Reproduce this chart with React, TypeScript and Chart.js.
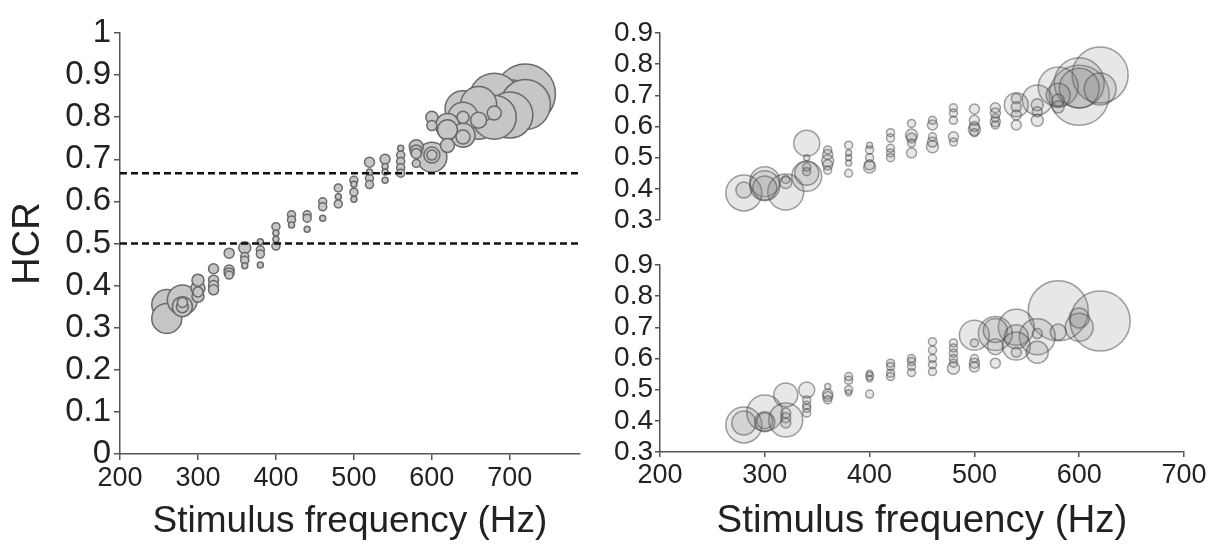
import { useEffect, useRef } from "react";
import { Chart, registerables } from "chart.js";

Chart.register(...registerables);

const FONT = "'Liberation Sans', Arial, Helvetica, sans-serif";
const TEXT = "#222222";
const AXIS = "#555555";

// ---------- Left panel (HCR vs stimulus frequency) ----------
const leftFreq = [
  260, 260,
  280, 280, 280, 280,
  300, 300, 300, 300,
  320, 320, 320, 320,
  340, 340, 340, 340,
  360, 360, 360, 360,
  380, 380, 380, 380,
  400, 400, 400, 400,
  420, 420, 420,
  440, 440, 440,
  460, 460, 460,
  480, 480, 480,
  500, 500, 500, 500,
  520, 520, 520, 520,
  540, 540, 540, 540,
  560, 560, 560, 560, 560,
  580, 580, 580, 580,
  600, 600, 600, 600, 600,
  620, 620, 620,
  640, 640, 640, 640, 640,
  660, 660, 660,
  680, 680, 680,
  700, 700,
  720, 720,
];
const leftHcr = [
  0.355, 0.322,
  0.366, 0.35, 0.35, 0.36,
  0.413, 0.394, 0.375, 0.385,
  0.44, 0.413, 0.4, 0.39,
  0.477, 0.437, 0.43, 0.425,
  0.49, 0.469, 0.46, 0.447,
  0.504, 0.485, 0.475, 0.449,
  0.54, 0.525, 0.51, 0.494,
  0.568, 0.556, 0.544,
  0.568, 0.56, 0.534,
  0.599, 0.587, 0.56,
  0.632, 0.611, 0.594,
  0.65, 0.641, 0.622, 0.605,
  0.693, 0.67, 0.655, 0.64,
  0.7, 0.683, 0.67, 0.65,
  0.726, 0.71, 0.695, 0.68, 0.667,
  0.73, 0.714, 0.69, 0.72,
  0.705, 0.71, 0.71, 0.8, 0.78,
  0.77, 0.733, 0.78,
  0.757, 0.753, 0.8, 0.8, 0.82,
  0.83, 0.793, 0.8,
  0.845, 0.8, 0.81,
  0.825, 0.805,
  0.855, 0.83,
];
const leftSize = [
  15, 15,
  15, 10, 6, 5,
  6, 7, 6, 5,
  5, 5, 5, 5,
  5, 5, 5, 4,
  6, 4, 4, 3,
  3, 4, 4, 3,
  4, 3, 3, 4,
  4, 4, 3,
  4, 4, 3,
  4, 4, 3,
  4, 3, 4,
  4, 3, 4, 3,
  5, 3, 4, 4,
  5, 3, 3, 3,
  3, 4, 4, 4, 4,
  7, 5, 4, 6,
  15, 8, 5, 6, 5,
  10, 7, 12,
  12, 7, 6, 15, 18,
  18, 8, 22,
  25, 22, 7,
  27, 23,
  30, 25,
];
const leftRefLines = [0.5, 0.667];
const leftXMin = 200;
const leftXMax = 790;
const leftXTicks = [200, 300, 400, 500, 600, 700];
const leftYTicks = [0, 0.1, 0.2, 0.3, 0.4, 0.5, 0.6, 0.7, 0.8, 0.9, 1];

// ---------- Right top panel ----------
const topFreq = [
  280, 280,
  300, 300, 300,
  320, 320, 320,
  340, 340, 340, 340, 340, 340,
  360, 360, 360, 360, 360,
  380, 380, 380, 380, 380,
  400, 400, 400, 400, 400,
  420, 420, 420, 420, 420,
  440, 440, 440, 440, 440,
  460, 460, 460, 460, 460,
  480, 480, 480, 480, 480,
  500, 500, 500, 500, 500,
  520, 520, 520, 520, 520,
  540, 540, 540, 540, 540,
  560, 560, 560, 560,
  580, 580, 580, 580,
  600, 600, 600,
  620, 620,
];
const topHcr = [
  0.387, 0.396,
  0.423, 0.403, 0.41,
  0.39, 0.43, 0.42,
  0.546, 0.44, 0.45, 0.47, 0.455, 0.5,
  0.525, 0.51, 0.49, 0.477, 0.46,
  0.54, 0.515, 0.5, 0.483, 0.45,
  0.54, 0.525, 0.5, 0.477, 0.47,
  0.58, 0.563, 0.53, 0.515, 0.5,
  0.61, 0.573, 0.563, 0.547, 0.515,
  0.62, 0.605, 0.567, 0.55, 0.535,
  0.66, 0.643, 0.62, 0.567, 0.55,
  0.656, 0.62, 0.6, 0.59, 0.58,
  0.66, 0.643, 0.627, 0.615, 0.605,
  0.67, 0.69, 0.663, 0.637, 0.605,
  0.685, 0.67, 0.647, 0.62,
  0.727, 0.7, 0.685, 0.663,
  0.7, 0.74, 0.723,
  0.765, 0.72,
];
const topSize = [
  18, 8,
  15, 12, 15,
  18, 4, 6,
  13, 15, 12, 4, 4, 3,
  4, 5, 6, 5, 4,
  4, 3, 3, 3, 4,
  3, 4, 4, 5, 6,
  4, 4, 4, 4, 4,
  4, 6, 5, 4, 5,
  4, 5, 4, 5, 6,
  4, 4, 4, 5, 4,
  5, 5, 5, 6, 4,
  5, 5, 4, 5, 4,
  12, 5, 5, 5, 5,
  15, 6, 5, 6,
  20, 12, 6, 6,
  30, 25, 20,
  28, 16,
];

// ---------- Right bottom panel ----------
const botFreq = [
  280, 280,
  300, 300, 300,
  320, 320, 320, 320, 320,
  340, 340, 340, 340, 340,
  360, 360, 360, 360,
  380, 380, 380, 380,
  400, 400, 400, 400,
  420, 420, 420, 420,
  440, 440, 440, 440,
  460, 460, 460, 460, 460,
  480, 480, 480, 480, 480, 480,
  500, 500, 500, 500, 500,
  520, 520, 520, 520,
  540, 540, 540, 540,
  560, 560, 560,
  580, 580,
  600, 600,
  620,
];
const botHcr = [
  0.387, 0.393,
  0.425, 0.397, 0.4,
  0.403, 0.483, 0.425, 0.41, 0.393,
  0.499, 0.467, 0.45, 0.44, 0.425,
  0.51, 0.486, 0.478, 0.467,
  0.542, 0.53, 0.5, 0.49,
  0.553, 0.544, 0.535, 0.486,
  0.585, 0.574, 0.553, 0.542,
  0.6, 0.59, 0.574, 0.555,
  0.654, 0.627, 0.6, 0.58, 0.558,
  0.65, 0.634, 0.617, 0.6, 0.585, 0.569,
  0.675, 0.65, 0.6, 0.585, 0.573,
  0.68, 0.69, 0.638, 0.585,
  0.7, 0.64, 0.67, 0.62,
  0.67, 0.62, 0.68,
  0.753, 0.685,
  0.73, 0.7,
  0.72,
];
const botSize = [
  18, 12,
  18, 10, 8,
  17, 12, 5, 5, 5,
  8, 4, 4, 4, 4,
  3, 5, 5, 4,
  4, 4, 4, 3,
  3, 4, 3, 4,
  4, 4, 4, 4,
  4, 4, 4, 4,
  4, 4, 4, 4, 4,
  4, 4, 4, 4, 4, 6,
  15, 4, 4, 5, 5,
  17, 12, 8, 5,
  18, 14, 12, 5,
  18, 11, 5,
  30, 8,
  10, 14,
  30,
];

const rightXMin = 200;
const rightXMax = 700;
const rightXTicks = [200, 300, 400, 500, 600, 700];
const rightYMin = 0.3;
const rightYMax = 0.9;
const rightYTicks = [0.3, 0.4, 0.5, 0.6, 0.7, 0.8, 0.9];

const X_TITLE = "Stimulus frequency (Hz)";
const Y_TITLE = "HCR";

function points(f: number[], v: number[], s: number[]) {
  return f
    .map((x, i) => ({ x, y: v[i], r: s[i] }))
    .sort((a, b) => b.r - a.r);
}

function gridOpts(len: number) {
  return {
    display: true,
    drawOnChartArea: false,
    drawTicks: true,
    tickLength: len,
    color: AXIS,
    lineWidth: 1.5,
  };
}

function leftConfig(): any {
  const lines = leftRefLines.map((v) => ({
    type: "line",
    data: [
      { x: leftXMin, y: v },
      { x: leftXMax, y: v },
    ],
    borderColor: "#111111",
    borderWidth: 2.5,
    borderDash: [7, 4],
    pointRadius: 0,
    fill: false,
    order: 0,
  }));
  return {
    type: "bubble",
    data: {
      datasets: [
        {
          type: "bubble",
          data: points(leftFreq, leftHcr, leftSize),
          backgroundColor: "#c6c6c6",
          borderColor: "#6a6a6a",
          borderWidth: 1.5,
          order: 1,
        },
        ...lines,
      ],
    },
    options: {
      animation: false,
      responsive: false,
      events: [],
      layout: { autoPadding: false, padding: { top: 33, right: 20, left: 0, bottom: 0 } },
      plugins: { legend: { display: false }, tooltip: { enabled: false } },
      scales: {
        x: {
          type: "linear",
          min: leftXMin,
          max: leftXMax,
          afterFit: (s: any) => {
            s.height = 90;
            s.paddingLeft = 0;
            s.paddingRight = 0;
          },
          afterBuildTicks: (s: any) => {
            s.ticks = leftXTicks.map((value) => ({ value }));
          },
          grid: gridOpts(6),
          border: { display: true, color: AXIS, width: 1.5 },
          ticks: {
            font: { family: FONT, size: 27 },
            color: TEXT,
            padding: 2,
            maxRotation: 0,
            autoSkip: false,
            callback: (v: any) => String(v),
          },
          title: {
            display: true,
            text: X_TITLE,
            font: { family: FONT, size: 37 },
            color: TEXT,
            padding: { top: 0, bottom: 0 },
          },
        },
        y: {
          type: "linear",
          min: 0,
          max: 1,
          afterFit: (s: any) => {
            s.width = 120;
          },
          afterBuildTicks: (s: any) => {
            s.ticks = leftYTicks.map((value) => ({ value }));
          },
          grid: gridOpts(6),
          border: { display: true, color: AXIS, width: 1.5 },
          ticks: {
            font: { family: FONT, size: 33 },
            color: TEXT,
            padding: 3,
            autoSkip: false,
            callback: (v: any) => String(v),
          },
          title: {
            display: true,
            text: Y_TITLE,
            font: { family: FONT, size: 38 },
            color: TEXT,
            padding: { top: 6, bottom: 0 },
          },
        },
      },
    },
  };
}

function rightConfig(
  f: number[],
  v: number[],
  s: number[],
  showX: boolean,
  padTop: number,
  padBottom: number
): any {
  return {
    type: "bubble",
    data: {
      datasets: [
        {
          data: points(f, v, s),
          backgroundColor: "rgba(110,110,110,0.17)",
          borderColor: "rgba(70,70,70,0.5)",
          borderWidth: 1.5,
        },
      ],
    },
    options: {
      animation: false,
      responsive: false,
      events: [],
      layout: {
        autoPadding: false,
        padding: { top: padTop, right: 33, left: 0, bottom: padBottom },
      },
      plugins: { legend: { display: false }, tooltip: { enabled: false } },
      scales: {
        x: {
          type: "linear",
          display: showX,
          min: rightXMin,
          max: rightXMax,
          afterFit: (sc: any) => {
            sc.height = showX ? 92 : 0;
            sc.paddingLeft = 0;
            sc.paddingRight = 0;
          },
          afterBuildTicks: (sc: any) => {
            sc.ticks = rightXTicks.map((value) => ({ value }));
          },
          grid: gridOpts(5),
          border: { display: true, color: AXIS, width: 1.5 },
          ticks: {
            font: { family: FONT, size: 27 },
            color: TEXT,
            padding: 2,
            maxRotation: 0,
            autoSkip: false,
            callback: (val: any) => String(val),
          },
          title: {
            display: true,
            text: X_TITLE,
            font: { family: FONT, size: 38.5 },
            color: TEXT,
            padding: { top: 0, bottom: 0 },
          },
        },
        y: {
          type: "linear",
          min: rightYMin,
          max: rightYMax,
          afterFit: (sc: any) => {
            sc.width = 60;
          },
          afterBuildTicks: (sc: any) => {
            sc.ticks = rightYTicks.map((value) => ({ value }));
          },
          grid: gridOpts(5),
          border: { display: true, color: AXIS, width: 1.5 },
          ticks: {
            font: { family: FONT, size: 28 },
            color: TEXT,
            padding: 2,
            autoSkip: false,
            callback: (val: any) => String(val),
          },
        },
      },
    },
  };
}

function ChartCanvas({
  config,
  left,
  top,
  width,
  height,
}: {
  config: () => any;
  left: number;
  top: number;
  width: number;
  height: number;
}) {
  const ref = useRef<HTMLCanvasElement | null>(null);
  useEffect(() => {
    if (!ref.current) return;
    const chart = new Chart(ref.current, config());
    return () => chart.destroy();
  }, []);
  return (
    <canvas
      ref={ref}
      width={width}
      height={height}
      style={{ position: "absolute", left, top, width, height }}
    />
  );
}

export default function App() {
  return (
    <div
      style={{
        position: "fixed",
        left: 0,
        top: 0,
        width: 1217,
        height: 544,
        background: "#ffffff",
        overflow: "hidden",
      }}
    >
      <ChartCanvas config={leftConfig} left={0} top={0} width={600} height={544} />
      <ChartCanvas
        config={() => rightConfig(topFreq, topHcr, topSize, false, 33, 20)}
        left={600}
        top={0}
        width={617}
        height={240}
      />
      <ChartCanvas
        config={() => rightConfig(botFreq, botHcr, botSize, true, 25, 0)}
        left={600}
        top={240}
        width={617}
        height={304}
      />
    </div>
  );
}
